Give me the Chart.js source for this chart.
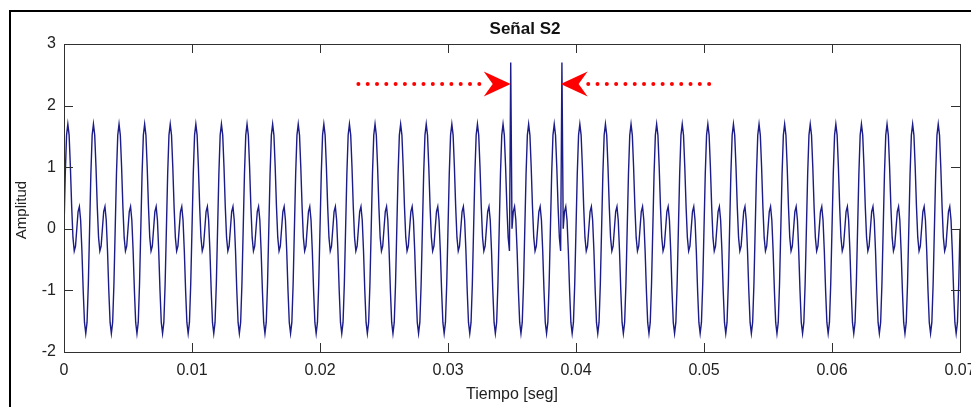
<!DOCTYPE html>
<html>
<head>
<meta charset="utf-8">
<script src="https://cdn.jsdelivr.net/npm/chart.js@4"></script>
<style>
  html, body { margin: 0; padding: 0; background: #fff; }
  #wrap { width: 971px; height: 407px; }
</style>
</head>
<body>
<div id="wrap"><canvas id="s2"></canvas></div>
<script>
// muestreo de la señal
const sampleRate = 10000;
const duration = 0.07;

// un periodo (2 ms) de la señal, 20 muestras
const cycle = [0.0, 0.9, 1.52, 1.7, 1.52, 1.0, 0.36, -0.14, -0.36, -0.28,
               0.0, 0.28, 0.36, 0.14, -0.36, -1.0, -1.52, -1.7, -1.52, -0.9];

// picos transitorios
const spikeTimes = [0.0349, 0.0389];
const spikeValues = [2.7, 2.7];

// flechas rojas (t inicio, t punta, amplitud)
const arrowTails = [0.0230, 0.0504];
const arrowTips = [0.0349, 0.0388];
const arrowLevel = 2.35;

const xTicks = [0, 0.01, 0.02, 0.03, 0.04, 0.05, 0.06, 0.07];
const yTicks = [-2, -1, 0, 1, 2, 3];

const titleText = "Señal S2";
const yLabelText = "Amplitud";

const points = [];
const nSamples = Math.round(duration * sampleRate);
for (let i = 0; i <= nSamples; i++) {
    points.push({ x: i / sampleRate, y: cycle[i % cycle.length] });
}
spikeTimes.forEach((t, k) => {
    points[Math.round(t * sampleRate)].y = spikeValues[k];
});

const fontFamily = "'Liberation Sans', Arial, sans-serif";
Chart.defaults.font.family = fontFamily;
Chart.defaults.color = "#222";

// marco negro exterior
const framePlugin = {
    id: "frame",
    beforeDraw(chart) {
        const ctx = chart.ctx;
        ctx.save();
        ctx.fillStyle = "#fff";
        ctx.fillRect(0, 0, chart.width, chart.height);
        ctx.strokeStyle = "#000";
        ctx.lineWidth = 2;
        ctx.strokeRect(10, 11, chart.width + 20, chart.height + 20);
        ctx.restore();
    }
};

// caja de ejes con marcas hacia dentro, título y etiqueta vertical
const boxPlugin = {
    id: "box",
    afterDatasetsDraw(chart) {
        const { ctx, chartArea: a, scales } = chart;
        const len = 9;
        ctx.save();
        ctx.strokeStyle = "#303030";
        ctx.lineWidth = 1;
        ctx.beginPath();
        xTicks.forEach(v => {
            const px = Math.round(scales.x.getPixelForValue(v)) + 0.5;
            ctx.moveTo(px, a.bottom); ctx.lineTo(px, a.bottom - len);
            ctx.moveTo(px, a.top); ctx.lineTo(px, a.top + len);
        });
        yTicks.forEach(v => {
            const py = Math.round(scales.y.getPixelForValue(v)) + 0.5;
            ctx.moveTo(a.left, py); ctx.lineTo(a.left + len, py);
            ctx.moveTo(a.right, py); ctx.lineTo(a.right - len, py);
        });
        ctx.stroke();
        ctx.strokeRect(Math.round(a.left) + 0.5, Math.round(a.top) + 0.5,
                       Math.round(a.right - a.left), Math.round(a.bottom - a.top));

        ctx.fillStyle = "#111";
        ctx.textAlign = "center";
        ctx.textBaseline = "middle";
        ctx.font = "bold 17px " + fontFamily;
        ctx.fillText(titleText, (a.left + a.right) / 2 + 13, 29);

        ctx.fillStyle = "#222";
        ctx.font = "15px " + fontFamily;
        ctx.translate(22, 210);
        ctx.rotate(-Math.PI / 2);
        ctx.fillText(yLabelText, 0, 0);
        ctx.restore();
    }
};

// flechas punteadas que señalan los picos
const arrowPlugin = {
    id: "arrows",
    afterDatasetsDraw(chart) {
        const { ctx, scales } = chart;
        const y = scales.y.getPixelForValue(arrowLevel);
        ctx.save();
        ctx.fillStyle = "#ff0000";
        arrowTails.forEach((t0, k) => {
            const x0 = scales.x.getPixelForValue(t0);
            const x1 = scales.x.getPixelForValue(arrowTips[k]);
            const dir = Math.sign(x1 - x0);
            const headLen = 27, half = 12.5, notch = 9;
            const stop = x1 - dir * (headLen - 4);
            for (let x = x0; dir * (stop - x) > 0; x += dir * 9.3) {
                ctx.beginPath();
                ctx.arc(x, y, 2, 0, Math.PI * 2);
                ctx.fill();
            }
            const back = x1 - dir * headLen;
            ctx.beginPath();
            ctx.moveTo(x1, y);
            ctx.lineTo(back, y - half);
            ctx.lineTo(back + dir * notch, y);
            ctx.lineTo(back, y + half);
            ctx.closePath();
            ctx.fill();
        });
        ctx.restore();
    }
};

new Chart(document.getElementById("s2"), {
    type: "line",
    data: {
        datasets: [{
            data: points,
            borderColor: "#1c1c88",
            borderWidth: 1.4,
            pointRadius: 0,
            tension: 0,
            fill: false
        }]
    },
    options: {
        responsive: true,
        maintainAspectRatio: false,
        animation: false,
        parsing: false,
        normalized: true,
        layout: { padding: { left: 10, right: 11, top: 44, bottom: 0 } },
        plugins: {
            legend: { display: false },
            tooltip: { enabled: false },
            title: { display: false }
        },
        scales: {
            x: {
                type: "linear",
                min: 0,
                max: 0.07,
                grid: { display: false, drawTicks: false },
                border: { display: false },
                ticks: {
                    stepSize: 0.01,
                    padding: 9,
                    maxRotation: 0,
                    font: { size: 16 },
                    callback: v => String(+v.toFixed(2))
                },
                title: {
                    display: true,
                    text: "Tiempo [seg]",
                    font: { size: 16 },
                    padding: { top: 0, bottom: 3 }
                },
                afterFit: s => { s.height = 55; s.paddingLeft = 0; s.paddingRight = 0; }
            },
            y: {
                min: -2,
                max: 3,
                grid: { display: false, drawTicks: false },
                border: { display: false },
                ticks: { stepSize: 1, padding: 8, font: { size: 16 } },
                afterFit: s => { s.width = 54; s.paddingTop = 0; s.paddingBottom = 0; }
            }
        }
    },
    plugins: [framePlugin, boxPlugin, arrowPlugin]
});
</script>
</body>
</html>
